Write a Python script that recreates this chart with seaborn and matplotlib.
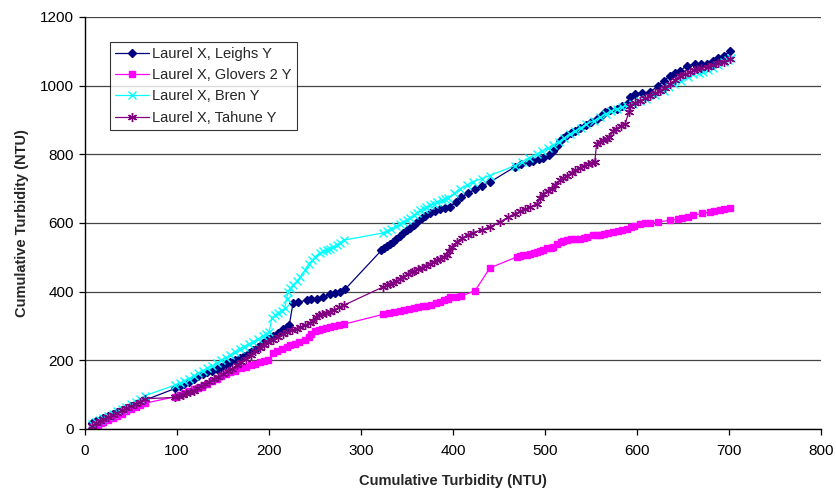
import seaborn as sns
import pandas as pd
import numpy as np
import matplotlib
matplotlib.use("Agg")
import matplotlib.pyplot as plt

# Laurel X vs Leighs Y
leighs_x = [8, 12, 16, 20, 25, 30, 35, 40, 45, 50, 55, 60, 65,
            98, 103, 108, 113, 118, 123, 128, 133, 138, 143, 148, 153, 158, 163, 168, 173, 178,
            183, 188, 193, 199, 204, 210, 215, 219, 222, 226, 232, 241, 246, 252, 259, 266, 272, 277, 283,
            322, 325, 328, 331, 335, 338, 342, 346, 350, 353, 357, 361, 366, 370, 375, 380, 386, 391,
            397, 403, 409, 416, 424, 431, 440,
            467, 474, 482, 487, 493, 498, 504, 509, 513, 516, 520, 524, 528, 533, 538, 545, 550, 556,
            561, 565, 571, 578, 584, 589, 592, 598, 605, 614, 623, 629, 636, 641, 647, 654, 663, 670,
            676, 683, 688, 694, 701]
leighs_y = [17, 22, 27, 32, 38, 44, 50, 56, 62, 68, 73, 79, 84,
            118, 124, 131, 138, 146, 153, 159, 165, 170, 176, 182, 188, 194, 200, 207, 214, 222,
            230, 239, 250, 262, 270, 281, 290, 297, 303, 366, 370, 375, 378, 380, 385, 392, 396, 400, 408,
            520, 526, 532, 538, 546, 553, 563, 572, 580, 586, 594, 603, 614, 621, 629, 635, 641, 645,
            648, 660, 675, 686, 698, 708, 719,
            763, 772, 777, 781, 787, 790, 797, 810, 825, 840, 848, 855, 861, 869, 876, 884, 893, 903,
            913, 923, 929, 932, 941, 947, 966, 976, 979, 981, 1000, 1014, 1029, 1036, 1044, 1058, 1063, 1063,
            1064, 1073, 1080, 1087, 1100]

# Laurel X vs Glovers 2 Y
glovers_x = [8, 11, 14, 17, 20, 25, 30, 35, 40, 45, 50, 55, 60, 65,
             98, 103, 108, 113, 118, 123, 127, 133, 138, 143, 148, 153, 158, 163, 170, 175, 180, 185,
             190, 195, 199, 204, 209, 214, 219, 223, 228, 233, 239, 243, 246, 250, 254, 258, 262, 266,
             271, 276, 281,
             324, 330, 336, 342, 347, 352, 357, 362, 367, 371, 376, 381, 386, 390, 394, 397, 403, 409,
             424, 440, 469, 473, 476, 480, 484, 488, 491, 495, 498, 502, 506, 509, 513, 517, 520, 524,
             528, 533, 538, 542, 546, 552, 556, 560, 564, 568, 574, 579, 584, 589, 593, 597, 603, 609,
             614, 623, 636, 644, 649, 655, 661, 671, 679, 684, 690, 695, 701]
glovers_y = [5, 8, 12, 16, 20, 26, 32, 38, 44, 51, 57, 63, 69, 75,
             94, 99, 105, 110, 116, 120, 123, 132, 140, 147, 153, 160, 165, 170, 177, 182, 186, 190,
             194, 197, 200, 220, 226, 232, 239, 244, 248, 253, 259, 268, 278, 284, 288, 291, 294, 297,
             300, 302, 305,
             334, 337, 340, 344, 347, 349, 351, 354, 357, 359, 362, 366, 370, 375, 380, 383, 385, 387,
             403, 469, 501, 503, 506, 508, 511, 514, 516, 519, 522, 526, 528, 530, 538, 545, 549, 551,
             552, 553, 554, 556, 559, 564, 564, 566, 568, 570, 574, 577, 580, 583, 588, 592, 596, 599,
             600, 603, 608, 611, 615, 618, 622, 628, 632, 635, 639, 641, 645]

# Laurel X vs Bren Y
bren_x = [8, 12, 16, 20, 25, 30, 35, 40, 45, 50, 55, 60, 65,
          98, 103, 108, 113, 118, 123, 128, 133, 138, 143, 148, 153, 158, 163, 168, 173, 178, 183, 188,
          193, 197, 200, 203, 206, 210, 214, 217, 219, 221, 223, 226, 230, 234, 239, 243, 247, 250, 255,
          259, 263, 266, 270, 274, 277, 281,
          324, 328, 333, 338, 342, 346, 350, 353, 357, 361, 364, 368, 371, 375, 379, 383, 388, 391, 395,
          401, 408, 415, 422, 431, 440,
          467, 475, 483, 491, 497, 503, 509, 515, 521, 527, 533, 539, 545, 553, 560, 566, 572, 578, 584,
          589, 596, 603, 610, 620, 629, 635, 640, 648, 655, 661, 667, 672, 677, 683, 688, 694, 699, 702]
bren_y = [15, 20, 26, 32, 38, 45, 52, 58, 65, 72, 80, 88, 97,
          128, 134, 140, 147, 155, 162, 170, 177, 184, 192, 200, 208, 216, 225, 234, 240, 247, 254, 262,
          270, 276, 282, 322, 331, 338, 345, 351, 380, 399, 410, 419, 430, 443, 462, 481, 492, 501, 513,
          517, 520, 525, 530, 536, 541, 550,
          571, 576, 583, 590, 598, 603, 608, 615, 622, 630, 637, 642, 646, 651, 656, 660, 666, 670, 674,
          686, 700, 710, 720, 729, 738,
          767, 778, 790, 801, 810, 818, 826, 837, 848, 859, 868, 878, 888, 898, 908, 918, 926, 932, 937,
          942, 948, 955, 961, 972, 985, 996, 1005, 1015, 1024, 1034, 1038, 1041, 1045, 1052, 1060, 1068, 1076, 1080]

# Laurel X vs Tahune Y
tahune_x = [8, 12, 16, 20, 25, 30, 35, 40, 45, 50, 55, 60, 65,
            98, 102, 106, 110, 114, 118, 122, 126, 130, 135, 140, 145, 150, 155, 160, 165, 170, 175,
            180, 185, 190, 195, 199, 204, 210, 215, 220, 225, 230, 234, 239, 244, 248, 251, 254, 258,
            262, 266, 271, 276, 281,
            324, 328, 331, 335, 338, 342, 346, 351, 355, 358, 362, 366, 371, 375, 379, 382, 386, 390,
            393, 396, 399, 404, 410, 416, 422, 431, 440, 451, 460, 467, 473, 478, 484, 491, 495, 498,
            503, 507, 511, 516, 520, 524, 529, 533, 538, 542, 547, 551, 554, 556, 560, 563, 567, 570,
            574, 577, 582, 587, 591, 592, 598, 603, 609, 614, 620, 625, 630, 636, 641, 647, 652, 658,
            662, 665, 670, 677, 683, 688, 694, 701]
tahune_y = [10, 16, 22, 28, 34, 40, 47, 54, 60, 66, 73, 80, 88,
            92, 96, 100, 104, 108, 112, 118, 124, 130, 138, 145, 152, 160, 168, 176, 186, 196, 205,
            216, 226, 236, 246, 252, 260, 268, 276, 282, 287, 292, 296, 302, 308, 314, 325, 332, 336,
            339, 342, 348, 354, 360,
            414, 418, 421, 425, 430, 437, 444, 452, 457, 461, 465, 470, 476, 481, 486, 491, 496, 502,
            507, 518, 530, 544, 556, 566, 572, 580, 589, 603, 617, 627, 634, 640, 646, 656, 672, 685,
            694, 700, 710, 724, 731, 738, 746, 753, 760, 767, 772, 775, 778, 831, 836, 841, 846, 850,
            868, 875, 882, 889, 923, 942, 950, 956, 963, 971, 978, 985, 994, 1005, 1016, 1029, 1034, 1039,
            1046, 1049, 1051, 1054, 1060, 1066, 1070, 1077]

series = [
    ("Laurel X, Leighs Y", leighs_x, leighs_y, "#000080", "D", 4.5),
    ("Laurel X, Glovers 2 Y", glovers_x, glovers_y, "#FF00FF", "s", 5),
    ("Laurel X, Bren Y", bren_x, bren_y, "#00FFFF", "x", 5.5),
    ("Laurel X, Tahune Y", tahune_x, tahune_y, "#800080", (6, 2, 0), 6.5),
]

sns.set_style("white")
plt.rcParams['font.family'] = ['Liberation Sans', 'DejaVu Sans']

fig, ax = plt.subplots(figsize=(8.37, 4.94), dpi=100)
fig.subplots_adjust(left=0.1016, right=0.981, top=0.9656, bottom=0.1316)

for name, xs, ys, col, mk, ms in series:
    df = pd.DataFrame({"x": xs, "y": ys})
    sns.lineplot(data=df, x="x", y="y", ax=ax, sort=False, estimator=None,
                 color=col, marker=mk, markersize=ms, markeredgecolor=col,
                 markerfacecolor=col, markeredgewidth=1.0, linewidth=0.9, label=name)

ax.set_xlim(0, 800)
ax.set_ylim(0, 1200)
ax.set_xticks(np.arange(0, 801, 100))
ax.set_yticks(np.arange(0, 1201, 200))
ax.yaxis.grid(True, color="#444444", linewidth=0.9)
ax.xaxis.grid(False)
ax.set_axisbelow(True)

for s in ["top", "right"]:
    ax.spines[s].set_visible(False)
for s in ["left", "bottom"]:
    ax.spines[s].set_color("black")
    ax.spines[s].set_linewidth(1.0)

ax.tick_params(axis="both", direction="out", length=4, width=0.9, colors="black",
               labelsize=11, left=True, bottom=True)
ax.tick_params(axis="x", pad=7)
ax.tick_params(axis="y", pad=4)

ax.set_xlabel("Cumulative Turbidity (NTU)", fontsize=10.5, fontweight="bold", labelpad=11)
ax.set_ylabel("Cumulative Turbidity (NTU)", fontsize=10.5, fontweight="bold", labelpad=8)

leg = ax.legend(loc="upper left", bbox_to_anchor=(0.034, 0.94), borderaxespad=0,
                fontsize=10.5, frameon=True, fancybox=False, edgecolor="black",
                handlelength=2.3, handletextpad=0.25, labelspacing=0.5, borderpad=0.35)
leg.get_frame().set_linewidth(0.8)

plt.savefig("out.png", dpi=100)
